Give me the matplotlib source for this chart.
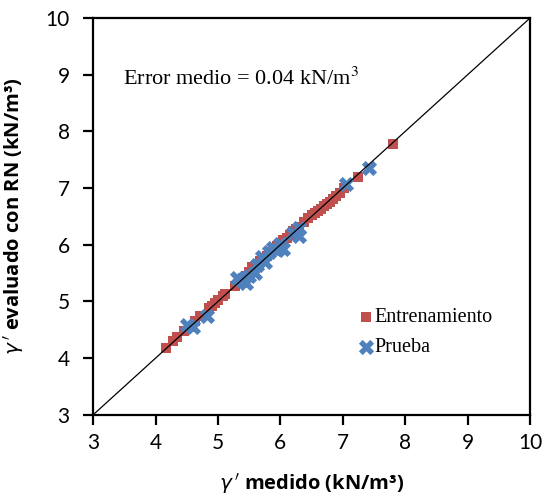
import matplotlib
matplotlib.use('Agg')
import matplotlib.pyplot as plt

# datos
ent_x = [4.17, 4.28, 4.35, 4.45, 4.55, 4.63, 4.72, 4.85, 4.90, 4.95, 5.00, 5.08, 5.12,
         5.28, 5.35, 5.45, 5.50, 5.55, 5.62, 5.68, 5.72, 5.78, 5.82, 5.88, 5.95, 6.00,
         6.05, 6.10, 6.15, 6.20, 6.25, 6.30, 6.38, 6.45, 6.50, 6.55, 6.60, 6.65, 6.70,
         6.75, 6.80, 6.85, 6.90, 6.95, 7.02, 7.25, 7.80]
ent_y = [4.18, 4.30, 4.38, 4.47, 4.55, 4.66, 4.74, 4.88, 4.92, 4.97, 5.02, 5.10, 5.14,
         5.28, 5.33, 5.45, 5.52, 5.60, 5.63, 5.72, 5.75, 5.80, 5.85, 5.90, 5.97, 6.02,
         6.08, 6.12, 6.18, 6.25, 6.28, 6.32, 6.40, 6.48, 6.52, 6.56, 6.60, 6.64, 6.68,
         6.72, 6.76, 6.80, 6.86, 6.92, 7.00, 7.20, 7.78]

pru_x = [4.50, 4.60, 4.82, 5.30, 5.38, 5.45, 5.50, 5.60, 5.62, 5.70, 5.75, 5.82, 5.88,
         5.95, 6.00, 6.05, 6.20, 6.30, 6.30, 7.05, 7.42]
pru_y = [4.58, 4.55, 4.75, 5.42, 5.38, 5.32, 5.45, 5.50, 5.65, 5.78, 5.70, 5.88, 5.95,
         5.90, 6.02, 5.92, 6.20, 6.15, 6.30, 7.08, 7.36]

fig = plt.figure(figsize=(5.48, 5.04), dpi=100)
ax = fig.add_axes([0.17, 0.177, 0.797, 0.787])

ax.plot([3, 10], [3, 10], color='black', lw=0.9, zorder=3)
ax.scatter(ent_x, ent_y, marker='s', s=45, color='#C0504D', linewidths=0,
           label='Entrenamiento', zorder=2)
ax.scatter(pru_x, pru_y, marker='X', s=120, color='#4F81BD', linewidths=0,
           label='Prueba', zorder=2)

ax.set_xlim(3, 10)
ax.set_ylim(3, 10)
ax.set_xticks(range(3, 11))
ax.set_yticks(range(3, 11))
for s in ax.spines.values():
    s.set_linewidth(1.6)
ax.tick_params(direction='out', length=7, width=1.6, labelsize=15)
ax.tick_params(axis='x', pad=6)
ax.tick_params(axis='y', pad=10)
for lab in ax.get_xticklabels() + ax.get_yticklabels():
    lab.set_family('Lato')

ax.text(3.48, 8.94, 'Error medio = 0.04 kN/m$^3$', family='Liberation Serif',
        fontsize=16, va='center', math_fontfamily='stix')

ax.set_xlabel(r"$\gamma\,'$ medido (kN/m³)", fontsize=14.5, fontweight='bold',
              family='Open Sans', labelpad=14)
ax.set_ylabel(r"$\gamma\,'$ evaluado con RN (kN/m³)", fontsize=14.5, fontweight='bold',
              family='Open Sans', labelpad=14)

leg = ax.legend(loc='lower right', bbox_to_anchor=(0.955, 0.10), frameon=False,
                prop={'family': 'Liberation Serif', 'size': 14.5},
                handletextpad=-0.2, labelspacing=0.55, handlelength=1.2)

fig.savefig('out.png', dpi=100)
